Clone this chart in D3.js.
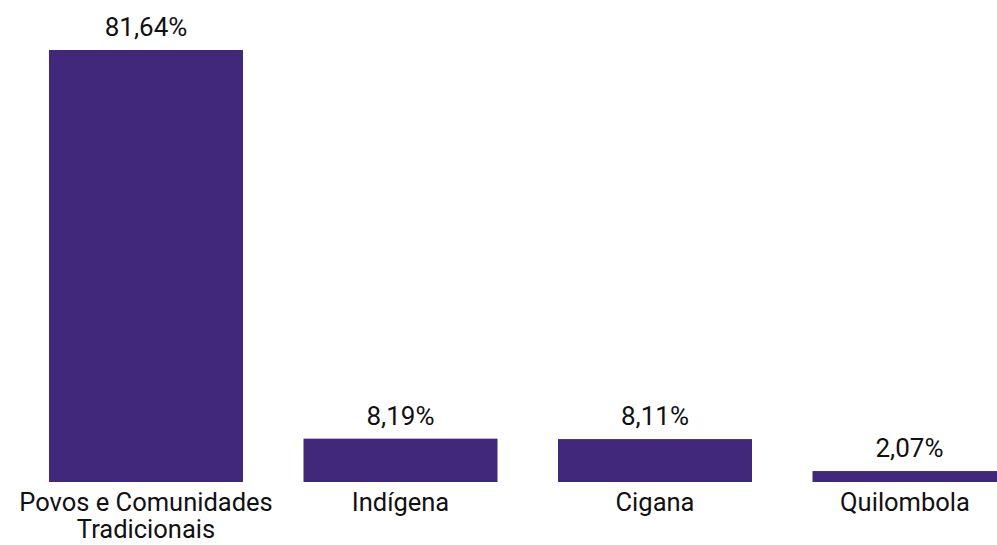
<!DOCTYPE html>
<html><head><meta charset="utf-8">
<script src="https://cdn.jsdelivr.net/npm/d3@7"></script>
<style>html,body{margin:0;padding:0;background:#fff;overflow:hidden}</style>
</head><body>
<svg id="c" width="997" height="545"></svg>
<script>
const categories = [["Povos e Comunidades","Tradicionais"],["Indígena"],["Cigana"],["Quilombola"]];
const values = [81.64, 8.19, 8.11, 2.07];
const valueLabels = ["81,64%","8,19%","8,11%","2,07%"];

const svg = d3.select("#c");
const font = "Roboto, 'Noto Sans', sans-serif";
const keys = categories.map((d,i)=>i);
const p = 0.2377;
const x = d3.scaleBand().domain(keys).range([18.75, 1036.75]).paddingInner(p).paddingOuter(p/2);
const y = d3.scaleLinear().domain([0, 81.64]).range([482, 50]);

svg.selectAll("rect.bar").data(values).join("rect")
  .attr("class","bar")
  .attr("x",(d,i)=>x(i)).attr("width",x.bandwidth())
  .attr("y",d=>y(d)).attr("height",d=>y(0)-y(d))
  .attr("fill","#42287a");

svg.selectAll("text.val").data(values).join("text")
  .attr("class","val")
  .attr("x",(d,i)=>x(i)+x.bandwidth()/2)
  .attr("y",d=>y(d)-14)
  .attr("text-anchor","middle")
  .attr("font-family",font).attr("font-size",26).attr("fill","#111")
  .text((d,i)=>valueLabels[i]);

const lab = svg.selectAll("text.cat").data(categories).join("text")
  .attr("class","cat")
  .attr("text-anchor","middle")
  .attr("font-family",font).attr("font-size",25.5).attr("fill","#111");
lab.each(function(d,i){
  const cx = Math.min(x(i)+x.bandwidth()/2, 905);
  d3.select(this).selectAll("tspan").data(d).join("tspan")
    .attr("x",cx).attr("y",(t,j)=>511+j*27).text(t=>t);
});
</script>
</body></html>
